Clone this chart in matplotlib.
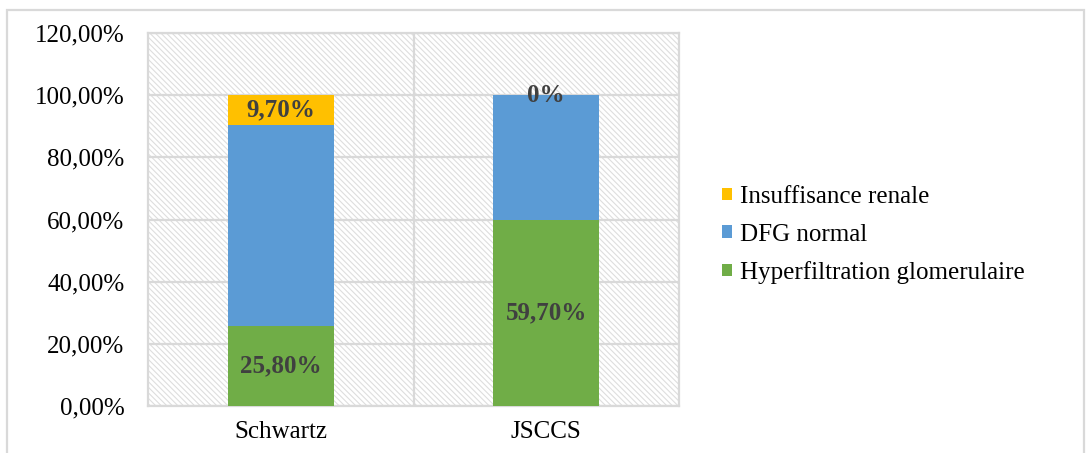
import matplotlib
matplotlib.use("Agg")
import matplotlib.pyplot as plt
from matplotlib.patches import Patch, Rectangle
from matplotlib.ticker import FuncFormatter
import numpy as np

categories = ["Schwartz", "JSCCS"]
hyperfiltration = [25.8, 59.7]
dfg_normal = [64.5, 40.3]
insuffisance = [9.7, 0.0]
series_names = ["Hyperfiltration glomerulaire", "DFG normal", "Insuffisance renale"]
series_colors = ["#70AD47", "#5B9BD5", "#FFC000"]
y_ticks = [0, 20, 40, 60, 80, 100, 120]

plt.rcParams["font.family"] = ["Liberation Serif", "DejaVu Serif"]
plt.rcParams["hatch.color"] = "#dedede"
plt.rcParams["hatch.linewidth"] = 0.8

FS = 18

fig = plt.figure(figsize=(10.86, 4.53), dpi=100)
ax = fig.add_axes([148 / 1086, 1 - 406 / 453, (679 - 148) / 1086, (406 - 33) / 453])

# outer chart frame
fig.patches.append(Rectangle((7 / 1086, -0.05), 1077 / 1086, 1.05 - 10 / 453,
                             transform=fig.transFigure, fill=False,
                             edgecolor="#d9d9d9", linewidth=1.6))

# hatched plot background
ax.set_facecolor("white")
ax.add_patch(Rectangle((0, 0), 1, 1, transform=ax.transAxes, facecolor="white",
                       edgecolor="#dedede", hatch="\\\\\\\\\\\\", linewidth=0, zorder=0))

x = np.arange(len(categories))
width = 0.4
stack = [hyperfiltration, dfg_normal, insuffisance]
bottom = np.zeros(len(categories))
for vals, name, col in zip(stack, series_names, series_colors):
    ax.bar(x, vals, width, bottom=bottom, color=col, label=name, zorder=3)
    bottom = bottom + np.array(vals)

label_style = dict(ha="center", va="center", fontsize=FS, fontweight="bold",
                   color="#404040", zorder=5)
ax.text(x[0], hyperfiltration[0] / 2, "25,80%", **label_style)
ax.text(x[0], hyperfiltration[0] + dfg_normal[0] + insuffisance[0] / 2, "9,70%", **label_style)
ax.text(x[1], hyperfiltration[1] / 2, "59,70%", **label_style)
ax.text(x[1], hyperfiltration[1] + dfg_normal[1] + insuffisance[1] / 2, "0%", **label_style)

ax.set_xlim(-0.5, 1.5)
ax.set_ylim(0, 120)
ax.set_yticks(y_ticks)
ax.yaxis.set_major_formatter(FuncFormatter(lambda v, p: f"{v:.2f}%".replace(".", ",")))
ax.set_xticks(x)
ax.set_xticklabels(categories)
ax.tick_params(axis="both", length=0, labelsize=FS, colors="black")
ax.tick_params(axis="y", pad=17)
ax.tick_params(axis="x", pad=11)

for yv in y_ticks:
    ax.axhline(yv, color="#d9d9d9", linewidth=1.6, zorder=1)
ax.axvline(0.5, color="#d9d9d9", linewidth=1.6, zorder=1)
for s in ax.spines.values():
    s.set_color("#d9d9d9")
    s.set_linewidth(1.6)

handles = [Patch(facecolor=c) for c in series_colors[::-1]]
fig.legend(handles, series_names[::-1], loc="center left",
           bbox_to_anchor=(699 / 1086, 1 - 235 / 453), frameon=False,
           fontsize=FS, handlelength=0.4, handleheight=0.4, handletextpad=0.35,
           labelspacing=0.62)

fig.savefig("out.png", dpi=100)
